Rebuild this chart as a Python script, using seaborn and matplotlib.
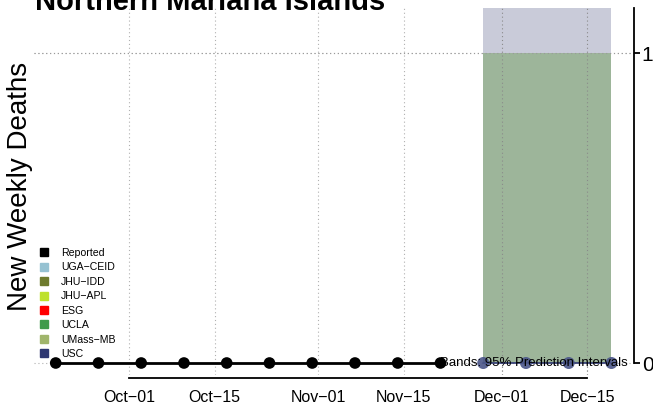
import numpy as np
import pandas as pd
import matplotlib
matplotlib.use("Agg")
import matplotlib.pyplot as plt
import matplotlib.dates as mdates
from matplotlib.lines import Line2D
import seaborn as sns

# ---- data -------------------------------------------------------------
title = "Northern Mariana Islands"
ylabel = "New Weekly Deaths"

reported_dates = pd.to_datetime([
    "2020-09-19", "2020-09-26", "2020-10-03", "2020-10-10", "2020-10-17",
    "2020-10-24", "2020-10-31", "2020-11-07", "2020-11-14", "2020-11-21",
])
reported_deaths = [0, 0, 0, 0, 0, 0, 0, 0, 0, 0]

forecast_dates = pd.to_datetime(["2020-11-28", "2020-12-05", "2020-12-12", "2020-12-19"])
forecast_point = [0, 0, 0, 0]

# 95% prediction intervals
pi_lower = [0, 0, 0, 0]
pi_upper = [1, 1, 1, 1]
usc_lower = [0, 0, 0, 0]
usc_upper = [1.145, 1.145, 1.145, 1.145]

models = ["Reported", "UGA\u2212CEID", "JHU\u2212IDD", "JHU\u2212APL", "ESG", "UCLA", "UMass\u2212MB", "USC"]
model_colors = ["#000000", "#96c2d2", "#6e7b2d", "#bee12b", "#ff0000", "#3f9b4b", "#a0b56c", "#2e3772"]

tick_dates = pd.to_datetime(["2020-10-01", "2020-10-15", "2020-11-01", "2020-11-15",
                             "2020-12-01", "2020-12-15"])
tick_labels = ["Oct\u221201", "Oct\u221215", "Nov\u221201", "Nov\u221215", "Dec\u221201", "Dec\u221215"]
y_ticks = [0, 1]

band_color_usc = "#c9cbd9"
band_color_pi = "#9db59a"

# ---- style ------------------------------------------------------------
sns.set_style("white")
plt.rcParams["font.family"] = ["Liberation Sans", "DejaVu Sans"]
plt.rcParams["text.color"] = "black"
plt.rcParams["xtick.color"] = "black"
plt.rcParams["ytick.color"] = "black"
plt.rcParams["axes.labelcolor"] = "black"

W, H = 653, 411
fig = plt.figure(figsize=(W / 100, H / 100), dpi=100)
# plot region in pixels: x 34..634, y 8..375
ax = fig.add_axes([34 / W, (H - 375) / H, 600 / W, 367 / H])

ref = mdates.date2num(pd.Timestamp("2020-10-01"))
ax.set_xlim(ref - 15.556, ref + 82.69)
ax.set_ylim(-12 / 310, 1 + 45 / 310)

grid_kw = dict(lw=0.8, ls=(0, (1, 2.5)))
for d in tick_dates:
    ax.axvline(mdates.date2num(d), color="#b0b0b0", zorder=0.5, **grid_kw)
for yv in y_ticks:
    ax.axhline(yv, color="#b0b0b0", zorder=0.5, **grid_kw)

# prediction bands
fx = mdates.date2num(forecast_dates)
ax.fill_between(fx, usc_lower, usc_upper, color=band_color_usc, lw=0, zorder=1)
ax.fill_between(fx, pi_lower, pi_upper, color=band_color_pi, lw=0, zorder=1.1)
# grid lines stay visible over the bands
for d in tick_dates[-2:]:
    ax.axvline(mdates.date2num(d), color="#8a8a8a", zorder=1.2, **grid_kw)
ax.axhline(1, color="#9a9a9a", zorder=1.2, **grid_kw)

# reported series
rep = pd.DataFrame({"date": mdates.date2num(reported_dates), "deaths": reported_deaths})
sns.lineplot(data=rep, x="date", y="deaths", color="black", lw=2, ax=ax, zorder=3)
sns.scatterplot(data=rep, x="date", y="deaths", color="black", s=70, edgecolor="none",
                ax=ax, zorder=4, clip_on=False)

# forecast medians
fc = pd.DataFrame({"date": fx, "deaths": forecast_point})
sns.lineplot(data=fc, x="date", y="deaths", color="#2e3772", lw=1.2, ax=ax, zorder=3)
sns.scatterplot(data=fc, x="date", y="deaths", color="#4a5588", s=75, edgecolor="none",
                alpha=0.9, ax=ax, zorder=4, clip_on=False)

ax.text(0.99, 0.032, "Bands: 95% Prediction Intervals", transform=ax.transAxes,
        ha="right", va="center", fontsize=9.5, color="black", zorder=5)

# axes
for s in ["top", "left"]:
    ax.spines[s].set_visible(False)
ax.spines["right"].set_visible(True)
ax.spines["right"].set_color("black")
ax.spines["right"].set_linewidth(1.3)
ax.spines["right"].set_bounds(0, 1 + 45 / 310)
ax.spines["bottom"].set_color("black")
ax.spines["bottom"].set_linewidth(1.3)
ax.spines["bottom"].set_position(("outward", 2))
ax.spines["bottom"].set_bounds(mdates.date2num(tick_dates[0]), mdates.date2num(tick_dates[-1]))

ax.set_xticks(mdates.date2num(tick_dates))
ax.set_xticklabels(tick_labels, fontsize=11.5)
ax.yaxis.tick_right()
ax.set_yticks(y_ticks)
ax.set_yticklabels([str(v) for v in y_ticks], fontsize=15)
ax.tick_params(axis="x", direction="out", length=4, width=1.3, pad=5, color="black")
ax.tick_params(axis="y", direction="out", length=4, width=1.3, pad=1.5, color="black")
ax.set_xlabel("")
ax.set_ylabel("")

fig.text(20 / W, 1 - 186 / H, ylabel, rotation=90, ha="center", va="center", fontsize=20)
fig.text(35 / W, 1 - 10 / H, title, ha="left", va="baseline", fontsize=21, fontweight="bold")

handles = [Line2D([], [], marker="s", ls="", color=c, markersize=6) for c in model_colors]
leg = ax.legend(handles, models, loc="upper left", bbox_to_anchor=(6 / 600, 1 - 240 / 367),
                frameon=False, fontsize=7.6, handlelength=0.8, handletextpad=1.2,
                labelspacing=0.42, borderpad=0, borderaxespad=0)

fig.savefig("out.png", dpi=100)
